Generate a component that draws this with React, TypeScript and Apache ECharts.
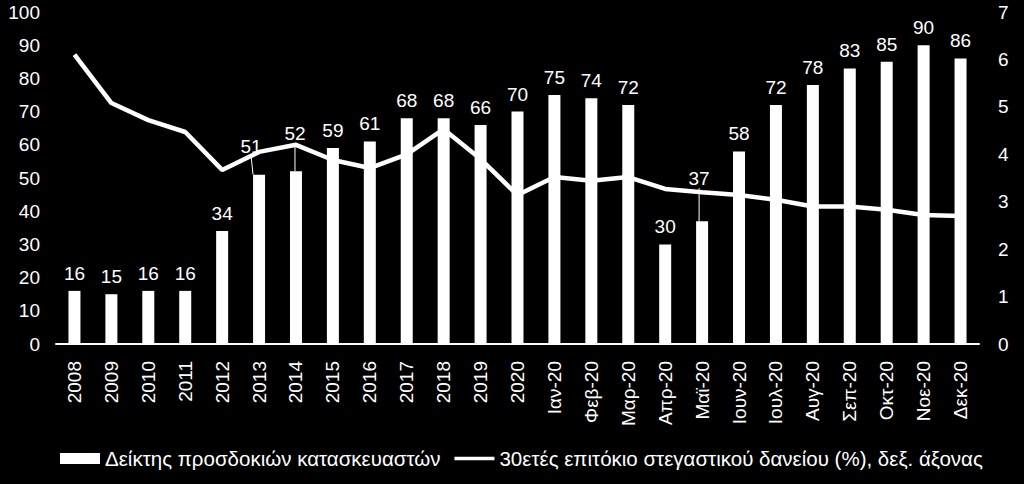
import React, { useEffect, useRef } from "react";
import * as echarts from "echarts";

const categories = [
  "2008", "2009", "2010", "2011", "2012", "2013", "2014", "2015", "2016", "2017", "2018", "2019", "2020",
  "Ιαν-20", "Φεβ-20", "Μαρ-20", "Απρ-20", "Μαϊ-20", "Ιουν-20", "Ιουλ-20", "Αυγ-20", "Σεπ-20", "Οκτ-20", "Νοε-20", "Δεκ-20",
];
const builderIndex = [16, 15, 16, 16, 34, 51, 52, 59, 61, 68, 68, 66, 70, 75, 74, 72, 30, 37, 58, 72, 78, 83, 85, 90, 86];
const mortgageRate = [6.1, 5.08, 4.72, 4.47, 3.67, 4.05, 4.2, 3.88, 3.71, 4.0, 4.53, 3.9, 3.14, 3.52, 3.44, 3.52, 3.27, 3.2, 3.14, 3.04, 2.9, 2.9, 2.83, 2.72, 2.7];
const leftTicks = { min: 0, max: 100, interval: 10 };
const rightTicks = { min: 0, max: 7, interval: 1 };
const barName = "Δείκτης προσδοκιών κατασκευαστών";
const lineName = "30ετές επιτόκιο στεγαστικού δανείου (%), δεξ. άξονας";

// label offsets (dataIndex -> [dx, dy]) for labels moved with leader lines
const movedLabels: Record<number, [number, number]> = { 5: [-8, -11], 6: [-1, -20], 17: [-3, -25] };

const FONT = "'Liberation Sans', Arial, sans-serif";

export default function App() {
  const ref = useRef<HTMLDivElement>(null);
  useEffect(() => {
    if (!ref.current) return;
    const chart = echarts.init(ref.current, undefined, { renderer: "svg" });
    chart.setOption({
      animation: false,
      backgroundColor: "#000",
      textStyle: { fontFamily: FONT, color: "#fff" },
      grid: { left: 56, right: 45, top: 12, bottom: 140 },
      legend: {
        left: 55,
        top: 443,
        itemGap: 14,
        itemWidth: 40,
        itemHeight: 11,
        textStyle: { color: "#fff", fontSize: 20.5, fontFamily: FONT },
        data: [
          { name: barName, icon: "rect" },
          { name: lineName, icon: "path://M0,0H44V4H0Z", itemStyle: { color: "#fff" } },
        ],
      },
      xAxis: {
        type: "category",
        data: categories,
        axisLine: { show: true, lineStyle: { color: "#fff", width: 2 } },
        axisTick: { show: false },
        axisLabel: { color: "#fff", fontSize: 19, rotate: 90, margin: 17, fontFamily: FONT, interval: 0 },
      },
      yAxis: [
        {
          type: "value",
          ...leftTicks,
          splitLine: { show: false },
          axisLine: { show: false },
          axisTick: { show: false },
          axisLabel: { color: "#fff", fontSize: 19, margin: 16, fontFamily: FONT },
        },
        {
          type: "value",
          ...rightTicks,
          position: "right",
          splitLine: { show: false },
          axisLine: { show: false },
          axisTick: { show: false },
          axisLabel: { color: "#fff", fontSize: 19, margin: 19, fontFamily: FONT },
        },
      ],
      series: [
        {
          name: barName,
          type: "bar",
          barWidth: 12,
          itemStyle: { color: "#fff" },
          data: builderIndex.map((v, i) =>
            movedLabels[i]
              ? { value: v, labelLine: { show: true, lineStyle: { color: "#fff", width: 1 } } }
              : v
          ),
          label: {
            show: true,
            position: "top",
            distance: 8,
            color: "#fff",
            fontSize: 19,
            fontFamily: FONT,
          },
          labelLine: { show: false },
          labelLayout: (params: any) => {
            const m = movedLabels[params.dataIndex];
            if (!m) return {};
            return { dx: m[0], dy: m[1] };
          },
        },
        {
          name: lineName,
          type: "line",
          yAxisIndex: 1,
          symbol: "none",
          lineStyle: { color: "#fff", width: 4.5 },
          itemStyle: { color: "#fff" },
          data: mortgageRate,
          z: 3,
        },
      ],
    });
    return () => chart.dispose();
  }, []);
  return <div ref={ref} style={{ position: "fixed", left: 0, top: 0, width: 1024, height: 484 }} />;
}
